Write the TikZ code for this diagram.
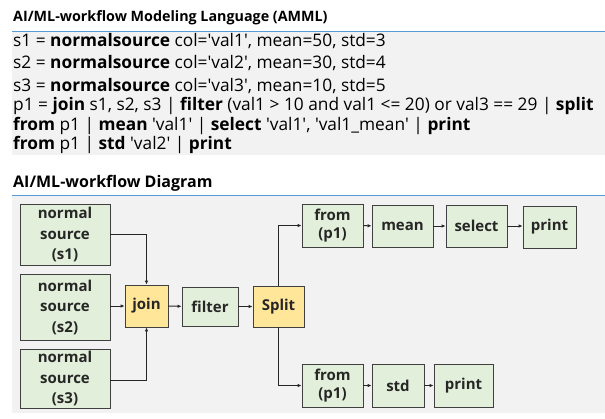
\documentclass[tikz,border=0pt]{standalone}
\usepackage{fontspec}
\setmainfont{Open Sans}
\usepackage{tikz}
\usetikzlibrary{arrows.meta, positioning}
\definecolor{opgreen}{HTML}{E2EFDA}
\definecolor{opyellow}{HTML}{FFE699}
\definecolor{panelgray}{HTML}{F2F2F2}
\definecolor{rulblue}{HTML}{5B9BD5}
\newcommand{\qt}[1]{\textquotesingle#1\textquotesingle}

\begin{document}
\begin{tikzpicture}[x=1pt, y=-1pt,
    heading/.style={anchor=west, font=\fontsize{14.3}{17}\selectfont\bfseries, inner sep=0pt},
    codeline/.style={anchor=west, font=\fontsize{17.3}{20}\selectfont, inner sep=0pt},
    op/.style={draw=black!75, fill=opgreen, line width=0.8pt, align=center, inner sep=0pt,
               font=\fontsize{15}{20.5}\selectfont\bfseries, text=black!85},
    hub/.style={op, fill=opyellow},
    flow/.style={-{Latex[length=4pt, width=3.5pt]}, line width=1pt, black!85},
]
  \useasboundingbox (0,0) rectangle (605,418);

  % language panel
  \node[heading] (langtitle) at (13,18) {AI/ML-workflow Modeling Language (AMML)};
  \fill[panelgray] (12,32) rectangle (605,155);
  \draw[rulblue, line width=1pt] (12,31.5) -- (605,31.5);
  \node[codeline] (l1) at (13,41)  {s1 = \textbf{normalsource} col=\qt{val1}, mean=50, std=3};
  \node[codeline] (l2) at (13,63)  {s2 = \textbf{normalsource} col=\qt{val2}, mean=30, std=4};
  \node[codeline] (l3) at (13,86)  {s3 = \textbf{normalsource} col=\qt{val3}, mean=10, std=5};
  \node[codeline] (l4) at (13,106) {p1 = \textbf{join} s1, s2, s3 | \textbf{filter} (val1 > 10 and val1 <= 20) or val3 == 29 | \textbf{split}};
  \node[codeline] (l5) at (13,126) {\textbf{from} p1 | \textbf{mean} \qt{val1} | \textbf{select} \qt{val1}, \qt{val1\_mean} | \textbf{print}};
  \node[codeline] (l6) at (13,145) {\textbf{from} p1 | \textbf{std} \qt{val2} | \textbf{print}};

  % diagram panel
  \node[heading, font=\fontsize{16}{19}\selectfont\bfseries] (diagtitle) at (13,183) {AI/ML-workflow Diagram};
  \fill[panelgray] (12,196) rectangle (605,413);
  \draw[rulblue, line width=1pt] (12,195.5) -- (605,195.5);

  \node[op, minimum width=90pt, minimum height=61pt] (s1) at (65,234.5) {normal\\source\\(s1)};
  \node[op, minimum width=90pt, minimum height=66pt] (s2) at (65,307) {normal\\source\\(s2)};
  \node[op, minimum width=90pt, minimum height=59pt] (s3) at (65,378.5) {normal\\source\\(s3)};

  \node[hub, minimum width=43pt, minimum height=42pt] (join) at (146.5,306) {join};
  \node[op, minimum width=56pt, minimum height=39pt] (filter) at (210,306.5) {filter};
  \node[hub, minimum width=51pt, minimum height=41pt] (split) at (278.5,306.5) {Split};

  \node[op, minimum width=61pt, minimum height=43pt, font=\fontsize{15}{17.5}\selectfont\bfseries] (from1) at (332.5,225.5) {from\\(p1)};
  \node[op, minimum width=61pt, minimum height=42pt] (mean) at (402.5,226) {mean};
  \node[op, minimum width=61pt, minimum height=42pt] (select) at (476.5,226) {select};
  \node[op, minimum width=53pt, minimum height=42pt] (print1) at (549.5,227) {print};

  \node[op, minimum width=61pt, minimum height=43pt, font=\fontsize{15}{17.5}\selectfont\bfseries] (from2) at (332.5,385.5) {from\\(p1)};
  \node[op, minimum width=52pt, minimum height=43pt] (std) at (398,385.5) {std};
  \node[op, minimum width=59pt, minimum height=43pt] (print2) at (463.5,385.5) {print};

  \draw[flow] (s1.east |- 0,234) -| (join.north);
  \draw[flow] (s2.east |- join.west) -- (join.west);
  \draw[flow] (s3.east |- 0,380) -| (join.south);
  \draw[flow] (join) -- (filter);
  \draw[flow] (filter) -- (split);
  \draw[flow] (split.north) |- (from1.west);
  \draw[flow] (split.south) |- (from2.west);
  \draw[flow] (from1) -- (mean);
  \draw[flow] (mean) -- (select);
  \draw[flow] (select) -- (print1.west |- select.east);
  \draw[flow] (from2) -- (std);
  \draw[flow] (std) -- (print2);
\end{tikzpicture}
\end{document}
